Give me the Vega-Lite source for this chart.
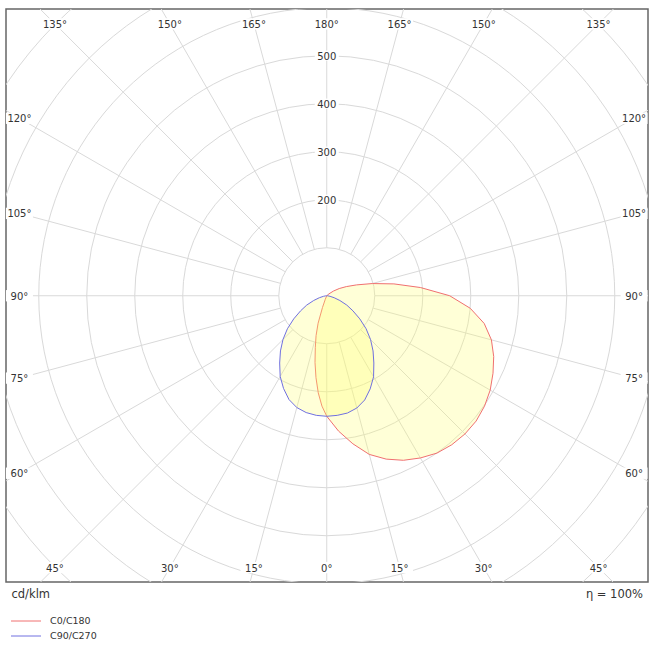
{
  "$schema": "https://vega.github.io/schema/vega-lite/v6.json",
  "width": 642,
  "height": 573,
  "autosize": {"type": "none"},
  "padding": {"left": 6, "top": 9, "right": 7, "bottom": 73},
  "background": "white",
  "title": {"text": "η = 100%", "orient": "top", "anchor": "end", "frame": "group", "offset": -597, "baseline": "middle", "fontSize": 11.5, "fontWeight": "normal", "font": "DejaVu Sans", "color": "#333", "dx": -5},
  "datasets": {
    "rings": [
      {"r": 100}, {"r": 200}, {"r": 300}, {"r": 400}, {"r": 500},
      {"r": 600}, {"r": 700}, {"r": 800}, {"r": 900}
    ],
    "rays": [
      {"phi": 0}, {"phi": 15}, {"phi": 30}, {"phi": 45}, {"phi": 60}, {"phi": 75},
      {"phi": 90}, {"phi": 105}, {"phi": 120}, {"phi": 135}, {"phi": 150}, {"phi": 165},
      {"phi": 180}, {"phi": 195}, {"phi": 210}, {"phi": 225}, {"phi": 240}, {"phi": 255},
      {"phi": 270}, {"phi": 285}, {"phi": 300}, {"phi": 315}, {"phi": 330}, {"phi": 345}
    ],
    "curves": [
      {"plane": "C0/C180", "half": "C0", "g": 0, "cd": 251},
      {"plane": "C0/C180", "half": "C0", "g": 5, "cd": 283},
      {"plane": "C0/C180", "half": "C0", "g": 10, "cd": 313},
      {"plane": "C0/C180", "half": "C0", "g": 15, "cd": 342},
      {"plane": "C0/C180", "half": "C0", "g": 20, "cd": 362},
      {"plane": "C0/C180", "half": "C0", "g": 25, "cd": 378},
      {"plane": "C0/C180", "half": "C0", "g": 30, "cd": 390},
      {"plane": "C0/C180", "half": "C0", "g": 35, "cd": 400},
      {"plane": "C0/C180", "half": "C0", "g": 40, "cd": 405},
      {"plane": "C0/C180", "half": "C0", "g": 45, "cd": 407},
      {"plane": "C0/C180", "half": "C0", "g": 50, "cd": 406},
      {"plane": "C0/C180", "half": "C0", "g": 55, "cd": 401},
      {"plane": "C0/C180", "half": "C0", "g": 60, "cd": 393},
      {"plane": "C0/C180", "half": "C0", "g": 65, "cd": 382},
      {"plane": "C0/C180", "half": "C0", "g": 70, "cd": 370},
      {"plane": "C0/C180", "half": "C0", "g": 75, "cd": 355},
      {"plane": "C0/C180", "half": "C0", "g": 80, "cd": 333},
      {"plane": "C0/C180", "half": "C0", "g": 85, "cd": 300},
      {"plane": "C0/C180", "half": "C0", "g": 90, "cd": 256},
      {"plane": "C0/C180", "half": "C0", "g": 95, "cd": 196},
      {"plane": "C0/C180", "half": "C0", "g": 100, "cd": 142},
      {"plane": "C0/C180", "half": "C0", "g": 105, "cd": 98},
      {"plane": "C0/C180", "half": "C0", "g": 110, "cd": 66},
      {"plane": "C0/C180", "half": "C0", "g": 115, "cd": 45},
      {"plane": "C0/C180", "half": "C0", "g": 120, "cd": 30},
      {"plane": "C0/C180", "half": "C0", "g": 125, "cd": 17},
      {"plane": "C0/C180", "half": "C0", "g": 130, "cd": 6},
      {"plane": "C0/C180", "half": "C0", "g": 135, "cd": 0},
      {"plane": "C0/C180", "half": "C180", "g": 0, "cd": 251},
      {"plane": "C0/C180", "half": "C180", "g": 2.5, "cd": 230},
      {"plane": "C0/C180", "half": "C180", "g": 5, "cd": 203},
      {"plane": "C0/C180", "half": "C180", "g": 7.5, "cd": 172},
      {"plane": "C0/C180", "half": "C180", "g": 10, "cd": 141},
      {"plane": "C0/C180", "half": "C180", "g": 12.5, "cd": 110},
      {"plane": "C0/C180", "half": "C180", "g": 15, "cd": 86},
      {"plane": "C0/C180", "half": "C180", "g": 17.5, "cd": 60},
      {"plane": "C0/C180", "half": "C180", "g": 20, "cd": 26},
      {"plane": "C0/C180", "half": "C180", "g": 22.5, "cd": 8},
      {"plane": "C0/C180", "half": "C180", "g": 25, "cd": 0},
      {"plane": "C90/C270", "half": "C90", "g": 0, "cd": 251},
      {"plane": "C90/C270", "half": "C90", "g": 5, "cd": 250},
      {"plane": "C90/C270", "half": "C90", "g": 10, "cd": 248},
      {"plane": "C90/C270", "half": "C90", "g": 15, "cd": 242},
      {"plane": "C90/C270", "half": "C90", "g": 20, "cd": 231},
      {"plane": "C90/C270", "half": "C90", "g": 25, "cd": 214},
      {"plane": "C90/C270", "half": "C90", "g": 30, "cd": 195},
      {"plane": "C90/C270", "half": "C90", "g": 35, "cd": 171},
      {"plane": "C90/C270", "half": "C90", "g": 40, "cd": 150},
      {"plane": "C90/C270", "half": "C90", "g": 45, "cd": 129},
      {"plane": "C90/C270", "half": "C90", "g": 50, "cd": 107},
      {"plane": "C90/C270", "half": "C90", "g": 55, "cd": 84},
      {"plane": "C90/C270", "half": "C90", "g": 60, "cd": 63},
      {"plane": "C90/C270", "half": "C90", "g": 65, "cd": 46},
      {"plane": "C90/C270", "half": "C90", "g": 70, "cd": 29},
      {"plane": "C90/C270", "half": "C90", "g": 75, "cd": 16},
      {"plane": "C90/C270", "half": "C90", "g": 80, "cd": 7},
      {"plane": "C90/C270", "half": "C90", "g": 85, "cd": 2},
      {"plane": "C90/C270", "half": "C90", "g": 90, "cd": 0},
      {"plane": "C90/C270", "half": "C270", "g": 0, "cd": 251},
      {"plane": "C90/C270", "half": "C270", "g": 5, "cd": 250},
      {"plane": "C90/C270", "half": "C270", "g": 10, "cd": 247},
      {"plane": "C90/C270", "half": "C270", "g": 15, "cd": 241},
      {"plane": "C90/C270", "half": "C270", "g": 20, "cd": 230},
      {"plane": "C90/C270", "half": "C270", "g": 25, "cd": 213},
      {"plane": "C90/C270", "half": "C270", "g": 30, "cd": 194},
      {"plane": "C90/C270", "half": "C270", "g": 35, "cd": 171},
      {"plane": "C90/C270", "half": "C270", "g": 40, "cd": 150},
      {"plane": "C90/C270", "half": "C270", "g": 45, "cd": 129},
      {"plane": "C90/C270", "half": "C270", "g": 50, "cd": 107},
      {"plane": "C90/C270", "half": "C270", "g": 55, "cd": 84},
      {"plane": "C90/C270", "half": "C270", "g": 60, "cd": 63},
      {"plane": "C90/C270", "half": "C270", "g": 65, "cd": 46},
      {"plane": "C90/C270", "half": "C270", "g": 70, "cd": 29},
      {"plane": "C90/C270", "half": "C270", "g": 75, "cd": 16},
      {"plane": "C90/C270", "half": "C270", "g": 80, "cd": 7},
      {"plane": "C90/C270", "half": "C270", "g": 85, "cd": 2},
      {"plane": "C90/C270", "half": "C270", "g": 90, "cd": 0}
    ]
  },
  "layer": [
    {
      "data": {"name": "rings"},
      "mark": {"type": "point", "shape": "circle", "filled": false, "stroke": "#d9d9d9", "strokeWidth": 1, "opacity": 1, "clip": true},
      "encoding": {
        "x": {"datum": 0, "type": "quantitative", "title": "cd/klm", "scale": {"domain": [-668, 669], "nice": false, "zero": false}},
        "y": {"datum": 0, "type": "quantitative", "axis": null, "scale": {"domain": [-596, 597], "nice": false, "zero": false}},
        "size": {"field": "r", "type": "quantitative", "legend": null, "scale": {"type": "pow", "exponent": 2, "domain": [0, 600], "range": [0, 331776]}}
      }
    },
    {
      "data": {"name": "rays"},
      "transform": [
        {"calculate": "sin(datum.phi*PI/180)", "as": "s"},
        {"calculate": "cos(datum.phi*PI/180)", "as": "c"},
        {"calculate": "100*datum.s", "as": "x1"},
        {"calculate": "-100*datum.c", "as": "y1"},
        {"calculate": "1000*datum.s", "as": "x2"},
        {"calculate": "-1000*datum.c", "as": "y2"}
      ],
      "mark": {"type": "rule", "color": "#d9d9d9", "strokeWidth": 1, "clip": true},
      "encoding": {
        "x": {"field": "x1", "type": "quantitative", "title": "cd/klm", "scale": {"domain": [-668, 669], "nice": false, "zero": false}},
        "y": {"field": "y1", "type": "quantitative", "axis": null, "scale": {"domain": [-596, 597], "nice": false, "zero": false}},
        "x2": {"field": "x2"},
        "y2": {"field": "y2"}
      }
    },
    {
      "data": {"name": "curves"},
      "transform": [
        {"calculate": "(datum.half == 'C0' || datum.half == 'C90') ? 1 : -1", "as": "sg"},
        {"calculate": "datum.sg*datum.cd*sin(datum.g*PI/180)", "as": "x"},
        {"calculate": "-datum.cd*cos(datum.g*PI/180)", "as": "y"},
        {"calculate": "datum.sg > 0 ? datum.g : 360 - datum.g", "as": "ord"}
      ],
      "mark": {"type": "line", "fill": "#ffff70", "fillOpacity": 0.28, "strokeWidth": 1, "clip": true},
      "encoding": {
        "x": {"field": "x", "type": "quantitative", "title": "cd/klm", "scale": {"domain": [-668, 669], "nice": false, "zero": false}},
        "y": {"field": "y", "type": "quantitative", "axis": null, "scale": {"domain": [-596, 597], "nice": false, "zero": false}},
        "order": {"field": "ord", "type": "quantitative"},
        "color": {
          "field": "plane", "type": "nominal",
          "scale": {"domain": ["C0/C180", "C90/C270"], "range": ["#f07070", "#7070e0"]},
          "legend": {"orient": "none", "legendX": 12, "legendY": 604, "direction": "vertical", "title": null, "symbolType": "M-2,0H2", "symbolSize": 225, "symbolStrokeWidth": 1, "labelFont": "DejaVu Sans", "labelFontSize": 9.5, "labelColor": "#333", "labelOffset": 16, "rowPadding": 2, "padding": 0}
        }
      }
    },
    {
      "data": {"name": "rays"},
      "transform": [
        {"calculate": "sin(datum.phi*PI/180)", "as": "s"},
        {"calculate": "cos(datum.phi*PI/180)", "as": "c"},
        {"calculate": "min(640/abs(datum.s), 566/abs(datum.c))", "as": "R"},
        {"calculate": "datum.R*datum.s", "as": "lx"},
        {"calculate": "-datum.R*datum.c", "as": "ly"}
      ],
      "mark": {"type": "point", "shape": "M-1,-0.42H1V0.42H-1Z", "filled": true, "color": "white", "opacity": 1, "size": 729},
      "encoding": {
        "x": {"field": "lx", "type": "quantitative", "title": "cd/klm", "scale": {"domain": [-668, 669], "nice": false, "zero": false}},
        "y": {"field": "ly", "type": "quantitative", "axis": null, "scale": {"domain": [-596, 597], "nice": false, "zero": false}}
      }
    },
    {
      "data": {"name": "rays"},
      "transform": [
        {"calculate": "sin(datum.phi*PI/180)", "as": "s"},
        {"calculate": "cos(datum.phi*PI/180)", "as": "c"},
        {"calculate": "min(640/abs(datum.s), 566/abs(datum.c))", "as": "R"},
        {"calculate": "datum.R*datum.s", "as": "lx"},
        {"calculate": "-datum.R*datum.c", "as": "ly"},
        {"calculate": "(datum.phi <= 180 ? datum.phi : 360 - datum.phi) + '°'", "as": "txt"}
      ],
      "mark": {"type": "text", "font": "DejaVu Sans", "fontSize": 10, "color": "#333", "align": "center", "baseline": "middle", "dy": 1},
      "encoding": {
        "x": {"field": "lx", "type": "quantitative", "title": "cd/klm", "scale": {"domain": [-668, 669], "nice": false, "zero": false}},
        "y": {"field": "ly", "type": "quantitative", "axis": null, "scale": {"domain": [-596, 597], "nice": false, "zero": false}},
        "text": {"field": "txt", "type": "nominal"}
      }
    },
    {
      "data": {"name": "rings"},
      "transform": [{"filter": "datum.r >= 200 && datum.r <= 500"}],
      "mark": {"type": "point", "shape": "M-1,-0.42H1V0.42H-1Z", "filled": true, "color": "white", "opacity": 1, "size": 576},
      "encoding": {
        "x": {"datum": 0, "type": "quantitative", "title": "cd/klm", "scale": {"domain": [-668, 669], "nice": false, "zero": false}},
        "y": {"field": "r", "type": "quantitative", "axis": null, "scale": {"domain": [-596, 597], "nice": false, "zero": false}}
      }
    },
    {
      "data": {"name": "rings"},
      "transform": [{"filter": "datum.r >= 200 && datum.r <= 500"}],
      "mark": {"type": "text", "font": "DejaVu Sans", "fontSize": 10, "color": "#333", "align": "center", "baseline": "middle", "dy": 1},
      "encoding": {
        "x": {"datum": 0, "type": "quantitative", "title": "cd/klm", "scale": {"domain": [-668, 669], "nice": false, "zero": false}},
        "y": {"field": "r", "type": "quantitative", "axis": null, "scale": {"domain": [-596, 597], "nice": false, "zero": false}},
        "text": {"field": "r", "type": "quantitative"}
      }
    }
  ],
  "config": {
    "view": {"stroke": "#666", "strokeWidth": 1.5},
    "axisX": {"labels": false, "ticks": false, "domain": false, "grid": false, "titleAnchor": "start", "titleAlign": "left", "titleX": 5, "titleBaseline": "top", "titlePadding": 6, "titleFont": "DejaVu Sans", "titleFontSize": 11.5, "titleFontWeight": "normal", "titleColor": "#333"}
  }
}
